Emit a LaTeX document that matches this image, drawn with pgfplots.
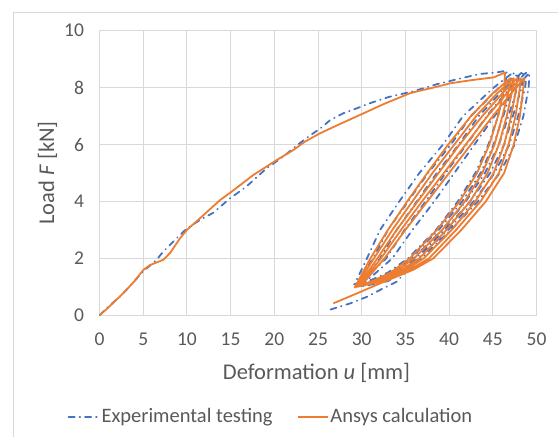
\documentclass[border=0pt]{standalone}
\usepackage{fontspec}
\setmainfont{Carlito}
\usepackage{pgfplots}
\pgfplotsset{compat=1.18}
\definecolor{exblue}{RGB}{68,114,196}
\definecolor{anorange}{RGB}{237,125,49}
\definecolor{gridgray}{RGB}{217,217,217}
\definecolor{txtgray}{RGB}{89,89,89}
\begin{document}
\begin{tikzpicture}
\useasboundingbox (0,0) rectangle (558pt,437pt);
\draw[gridgray, line width=0.8pt] (13.3pt,-20pt) -- (13.3pt,424.7pt) -- (600pt,424.7pt);
\begin{axis}[
  at={(99.5pt,121.7pt)}, anchor=south west,
  scale only axis, width=437pt, height=284.6pt,
  xmin=0, xmax=50, ymin=0, ymax=10,
  xtick={0,5,...,50}, ytick={0,2,...,10},
  grid=major, major grid style={gridgray, line width=0.8pt},
  axis line style={gridgray, line width=0.8pt},
  major tick length=0pt,
  /pgf/number format/assume math mode=true,
  tick label style={font=\fontsize{19.5}{19.5}\selectfont, text=txtgray},
  xticklabel style={yshift=-14pt},
  yticklabel style={xshift=-12pt},
  xlabel={Deformation \textit{u} [mm]},
  ylabel={Load \textit{F} [kN]},
  label style={font=\fontsize{22.5}{22.5}\selectfont, text=txtgray},
  xlabel style={at={(axis description cs:0.4966,-0.224)}, anchor=base},
  ylabel style={at={(axis description cs:-0.104,0.5)}, anchor=base},
  legend columns=2,
  legend style={draw=none, fill=none, at={(axis description cs:0.3924,-0.356)}, anchor=center,
    font=\fontsize{20.5}{20.5}\selectfont, text=txtgray,
    /tikz/every even column/.append style={column sep=22pt}},
  legend image code/.code={\draw[#1] (0pt,0pt) -- (30pt,0pt);},
]
\addplot[exblue, line width=1.8pt, line cap=round, dash pattern=on 6pt off 5pt on 0.5pt off 5pt] coordinates {
(0,0) (1,0.3) (2.5,0.7) (4,1.2) (5,1.55) (6,1.8) (6.5,1.94) (7.3,2.24) (8.8,2.7) (10,3.05) (11.5,3.35) (13,3.6) (14.9,4.1) (16.8,4.52) (19.1,5.16) (21,5.57) (22.5,5.95) (24,6.3) (25.2,6.55) (26.4,6.86) (27.9,7.1) (29.5,7.28) (31.1,7.47) (33.2,7.68) (35.9,7.87) (38.6,8.12) (41,8.3) (43.5,8.48) (45.4,8.53) (46.6,8.6)
(46.4,8.0) (45.6,7.0) (44.5,6.0) (43.0,5.0) (41.0,4.0) (38.5,3.0) (35.3,2.0) (33.0,1.5) (30.8,1.2) (29.2,1.1)
(30.6,2.0) (32.1,3.0) (34.3,4.0) (36.6,5.0) (39.3,6.0) (41.6,7.0) (45.1,8.0) (47.4,8.55)
(47.2,8.0) (46.2,7.0) (45.1,6.0) (43.6,5.0) (41.5,4.0) (38.8,3.0) (35.6,2.0) (33.4,1.5) (31.4,1.2) (29.3,1.05)
(31.3,2.0) (33.0,3.0) (35.3,4.0) (37.6,5.0) (40.2,6.0) (42.5,7.0) (45.7,8.0) (48.0,8.5)
(47.8,8.0) (46.8,7.0) (45.7,6.0) (44.1,5.0) (41.9,4.0) (39.2,3.0) (35.9,2.0) (33.8,1.5) (31.9,1.2) (29.5,1.0)
(32.1,2.0) (34.0,3.0) (36.3,4.0) (38.6,5.0) (41.1,6.0) (43.4,7.0) (46.4,8.0) (48.5,8.58)
(48.3,8.0) (47.3,7.0) (46.3,6.0) (44.7,5.0) (42.4,4.0) (39.5,3.0) (36.2,2.0) (34.2,1.5) (32.5,1.2) (29.6,1.05)
(32.8,2.0) (34.9,3.0) (37.3,4.0) (39.6,5.0) (42.0,6.0) (44.3,7.0) (47.0,8.0) (48.9,8.55)
(48.7,8.0) (47.9,7.0) (46.9,6.0) (45.2,5.0) (42.8,4.0) (39.9,3.0) (36.5,2.0) (34.6,1.5) (33.0,1.2) (29.8,1.0)
(33.5,2.0) (35.8,3.0) (38.3,4.0) (40.6,5.0) (42.9,6.0) (45.2,7.0) (47.6,8.0) (49.2,8.52)
(49.1,8.0) (48.5,7.0) (47.5,6.0) (45.8,5.0) (43.3,4.0) (40.2,3.0) (36.8,2.0) (35.0,1.5) (34.0,1.18) (32.1,0.89) (30.6,0.65) (28.7,0.42) (26.2,0.18)
};
\addlegendentry{Experimental testing}
\addplot[anorange, line width=1.8pt, line join=round] coordinates {
(0,0) (1,0.27) (2.7,0.77) (4,1.2) (5,1.59) (5.8,1.77) (6.5,1.85) (7.3,1.95) (8.1,2.2) (9.2,2.7) (10,3.0) (11.5,3.41) (13.8,4.05) (15.1,4.34) (17.6,4.93) (20.3,5.46) (22.2,5.81) (23.5,6.1) (25.2,6.39) (27.5,6.72) (29.8,7.04) (32.5,7.42) (35.5,7.8) (36.5,7.88) (38.6,8.03) (40.1,8.15) (42.5,8.26) (45.1,8.36) (46.4,8.53)
(46.3,8.0) (45.6,7.0) (44.6,6.0) (43.2,5.0) (41.2,4.0) (38.6,3.0) (35.5,2.0) (33.3,1.5) (31.2,1.2) (29.2,0.98)
(31.0,2.0) (33.0,3.0) (35.2,4.0) (37.5,5.0) (39.9,6.0) (42.5,7.0) (45.0,7.8) (47.0,8.33)
(46.9,8.0) (46.1,7.0) (45.2,6.0) (43.8,5.0) (41.8,4.0) (39.2,3.0) (36.0,2.0) (33.7,1.5) (31.5,1.2) (29.3,1.0)
(31.4,2.0) (33.5,3.0) (35.8,4.0) (38.1,5.0) (40.6,6.0) (43.1,7.0) (45.5,7.8) (47.4,8.33)
(47.3,8.0) (46.6,7.0) (45.7,6.0) (44.4,5.0) (42.4,4.0) (39.7,3.0) (36.6,2.0) (34.1,1.5) (31.8,1.2) (29.5,1.0)
(31.8,2.0) (34.0,3.0) (36.4,4.0) (38.8,5.0) (41.2,6.0) (43.8,7.0) (46.1,7.8) (47.8,8.33)
(47.7,8.0) (47.1,7.0) (46.3,6.0) (45.1,5.0) (43.0,4.0) (40.3,3.0) (37.1,2.0) (34.5,1.5) (32.2,1.2) (29.7,1.02)
(32.2,2.0) (34.5,3.0) (36.9,4.0) (39.4,5.0) (41.9,6.0) (44.4,7.0) (46.6,7.8) (48.2,8.33)
(48.1,8.0) (47.6,7.0) (46.8,6.0) (45.7,5.0) (43.6,4.0) (40.8,3.0) (37.7,2.0) (34.9,1.5) (32.5,1.2) (29.9,1.03)
(32.6,2.0) (35.0,3.0) (37.5,4.0) (40.0,5.0) (42.5,6.0) (45.0,7.0) (47.1,7.8) (48.6,8.33)
(48.5,8.0) (48.1,7.0) (47.4,6.0) (46.3,5.0) (44.2,4.0) (41.4,3.0) (38.2,2.0) (35.9,1.6) (32.1,1.12) (29.3,0.75) (26.75,0.42)
};
\addlegendentry{Ansys calculation}
\end{axis}
\end{tikzpicture}
\end{document}
